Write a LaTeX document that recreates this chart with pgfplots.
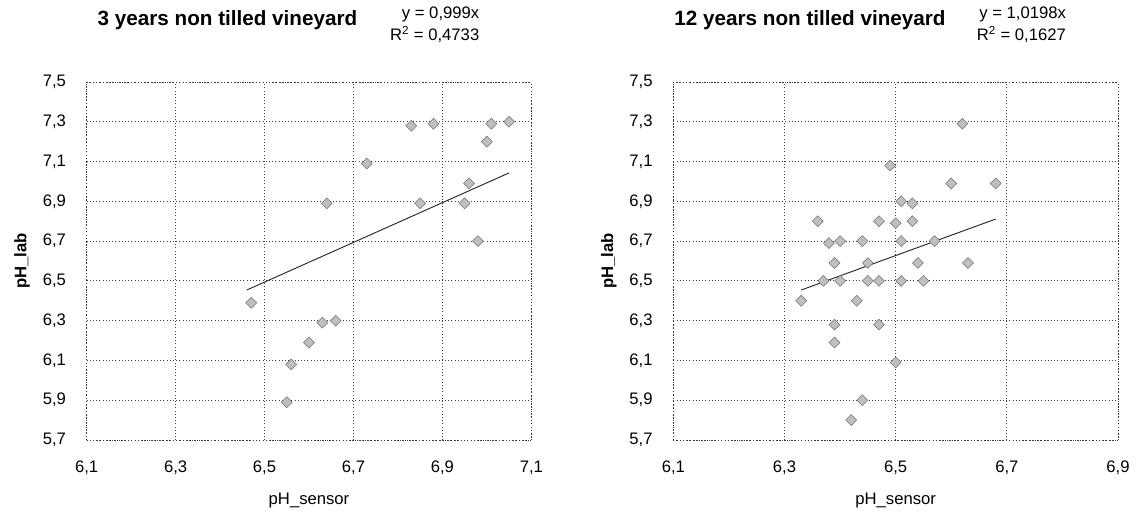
\documentclass[border=0pt]{standalone}
\usepackage{fontspec}
\setmainfont{Liberation Sans}
\usepackage{pgfplots}
\pgfplotsset{compat=1.18}

\pgfplotsset{
  phstyle/.style={
    scale only axis,
    width=333.5pt, height=268.5pt,
    ymin=5.7, ymax=7.5,
    ytick={5.7,5.9,...,7.5},
    grid=major,
    major grid style={dotted, black!75, line width=0.6pt},
    axis line style={dotted, black!80, line width=0.6pt},
    tick style={draw=none},
    font=\fontsize{12.5}{14}\selectfont,
    /pgf/number format/.cd, use comma, fixed, fixed zerofill, precision=1, assume math mode=true,
    /pgfplots/.cd,
    yticklabel style={xshift=-12pt},
    xticklabel style={yshift=-12pt},
    xlabel={pH\_sensor},
    ylabel={\bfseries pH\_lab},
    xlabel style={at={(axis description cs:0.5,-0.168)}, anchor=center},
    ylabel style={at={(axis description cs:-0.145,0.5)}, anchor=center},
  },
  pts/.style={only marks, mark=square*, mark size=2.9pt,
    mark options={rotate=45, fill=gray!50, draw=gray!90!black, line width=0.4pt}},
  trend/.style={no marks, black!85, line width=0.7pt},
}

\begin{document}
\begin{tikzpicture}
\path[use as bounding box] (0,0) rectangle (852pt,387.75pt);

% left: 3 years
\begin{axis}[phstyle, at={(65pt,57.75pt)},
  xmin=6.1, xmax=7.1, xtick={6.1,6.3,...,7.1}]
  \addplot[pts] coordinates {
    (6.83,7.28) (6.88,7.29) (7.01,7.29) (7.05,7.30) (7.00,7.20)
    (6.73,7.09) (6.96,6.99) (6.85,6.89) (6.95,6.89) (6.64,6.89)
    (6.98,6.70) (6.47,6.39) (6.63,6.29) (6.66,6.30) (6.60,6.19)
    (6.56,6.08) (6.55,5.89)
  };
  \addplot[trend] coordinates {(6.46,6.454) (7.05,7.043)};
\end{axis}

% right: 12 years
\begin{axis}[phstyle, at={(505pt,57.75pt)},
  xmin=6.1, xmax=6.9, xtick={6.1,6.3,...,6.9}]
  \addplot[pts] coordinates {
    (6.62,7.29) (6.49,7.08) (6.60,6.99) (6.68,6.99) (6.51,6.90)
    (6.53,6.89) (6.36,6.80) (6.47,6.80) (6.50,6.79) (6.53,6.80)
    (6.38,6.69) (6.40,6.70) (6.44,6.70) (6.51,6.70) (6.57,6.70)
    (6.39,6.59) (6.45,6.59) (6.54,6.59) (6.63,6.59) (6.37,6.50)
    (6.40,6.50) (6.45,6.50) (6.47,6.50) (6.51,6.50) (6.55,6.50)
    (6.33,6.40) (6.43,6.40) (6.39,6.28) (6.47,6.28) (6.39,6.19)
    (6.50,6.09) (6.44,5.90) (6.42,5.80)
  };
  \addplot[trend] coordinates {(6.33,6.454) (6.68,6.811)};
\end{axis}

% titles and trend equations
\node[font=\fontsize{15.5}{18}\selectfont\bfseries] at (170.6pt,372.75pt) {3 years non tilled vineyard};
\node[font=\fontsize{12.5}{14}\selectfont, anchor=east] at (363pt,377pt) {y = 0,999x};
\node[font=\fontsize{12.5}{14}\selectfont, anchor=east] at (363pt,362pt) {R\textsuperscript{2} = 0,4733};

\node[font=\fontsize{15.5}{18}\selectfont\bfseries] at (607.5pt,372.75pt) {12 years non tilled vineyard};
\node[font=\fontsize{12.5}{14}\selectfont, anchor=east] at (803pt,377pt) {y = 1,0198x};
\node[font=\fontsize{12.5}{14}\selectfont, anchor=east] at (803pt,362pt) {R\textsuperscript{2} = 0,1627};
\end{tikzpicture}
\end{document}
